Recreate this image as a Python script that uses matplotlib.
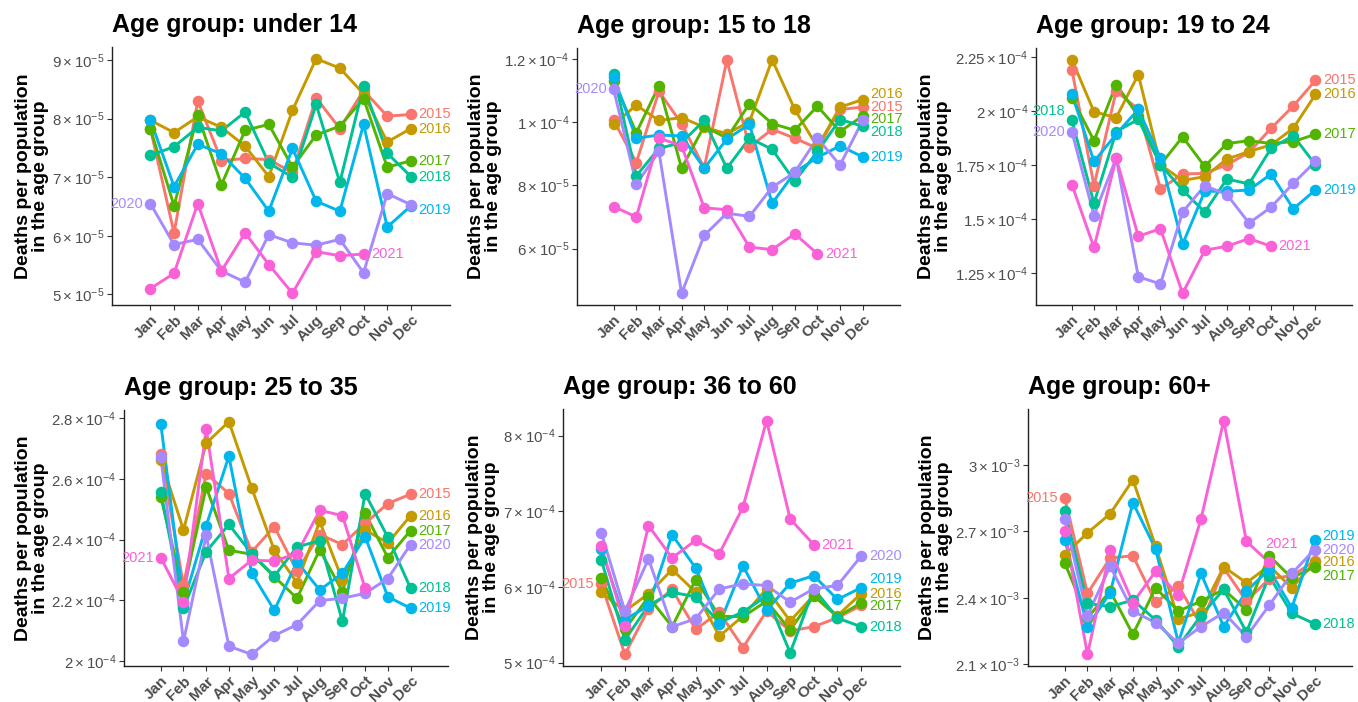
import numpy as np
import matplotlib
matplotlib.use("Agg")
import matplotlib.pyplot as plt
from matplotlib.ticker import FuncFormatter, FixedLocator

plt.rcParams['font.family'] = ['Liberation Sans', 'DejaVu Sans']
plt.rcParams['mathtext.fontset'] = 'custom'
plt.rcParams['mathtext.rm'] = 'Liberation Sans'
plt.rcParams['mathtext.it'] = 'Liberation Sans:italic'
plt.rcParams['mathtext.bf'] = 'Liberation Sans:bold'

months = ['Jan', 'Feb', 'Mar', 'Apr', 'May', 'Jun', 'Jul', 'Aug', 'Sep', 'Oct', 'Nov', 'Dec']
years = [2015, 2016, 2017, 2018, 2019, 2020, 2021]
colors = ['#F8766D', '#C49A00', '#53B400', '#00C094', '#00B6EB', '#A58AFF', '#FB61D7']

# ---- Age group: under 14 (x 1e-5)
u14_scale = 1e-5
u14_2015 = [7.83, 6.05, 8.30, 7.28, 7.32, 7.30, 7.08, 8.35, 7.83, 8.48, 8.04, 8.07]
u14_2016 = [7.97, 7.76, 8.03, 7.85, 7.53, 7.01, 8.14, 9.02, 8.86, 8.42, 7.60, 7.83]
u14_2017 = [7.83, 6.51, 8.06, 6.87, 7.80, 7.90, 7.17, 7.72, 7.87, 8.34, 7.17, 7.28]
u14_2018 = [7.37, 7.52, 7.85, 7.79, 8.11, 7.24, 7.00, 8.24, 6.91, 8.56, 7.41, 7.01]
u14_2019 = [7.98, 6.84, 7.56, 7.40, 6.98, 6.42, 7.49, 6.59, 6.42, 7.90, 6.15, 6.51]
u14_2020 = [6.55, 5.85, 5.94, 5.40, 5.21, 6.02, 5.88, 5.84, 5.94, 5.37, 6.72, 6.53]
u14_2021 = [5.10, 5.36, 6.55, 5.40, 6.05, 5.51, 5.02, 5.73, 5.66, 5.69]
u14_ticks = [5e-5, 6e-5, 7e-5, 8e-5, 9e-5]

# ---- Age group: 15 to 18 (x 1e-5)
a15_scale = 1e-5
a15_2015 = [10.05, 8.72, 10.97, 9.95, 8.55, 11.95, 9.21, 9.77, 9.49, 9.17, 10.40, 10.47]
a15_2016 = [9.93, 10.53, 10.05, 10.14, 9.84, 9.63, 10.01, 11.97, 10.40, 9.21, 10.47, 10.71]
a15_2017 = [11.31, 9.66, 11.15, 8.54, 9.87, 9.49, 10.58, 9.95, 9.74, 10.50, 9.70, 10.19]
a15_2018 = [11.52, 8.30, 9.17, 9.35, 10.05, 8.54, 9.49, 9.14, 8.13, 9.07, 10.08, 9.87]
a15_2019 = [11.41, 9.49, 9.59, 9.56, 8.54, 9.46, 9.93, 7.43, 8.41, 8.88, 9.25, 8.90]
a15_2020 = [11.03, 8.04, 9.07, 4.59, 6.42, 7.12, 7.02, 7.94, 8.41, 9.49, 8.64, 10.05]
a15_2021 = [7.33, 7.00, 9.49, 9.25, 7.29, 7.23, 6.05, 5.97, 6.47, 5.84]
a15_ticks = [6e-5, 8e-5, 1e-4, 1.2e-4]

# ---- Age group: 19 to 24 (x 1e-4)
a19_scale = 1e-4
a19_2015 = [2.193, 1.656, 2.093, 2.010, 1.641, 1.710, 1.713, 1.753, 1.810, 1.922, 2.025, 2.143]
a19_2016 = [2.239, 1.998, 1.971, 2.170, 1.753, 1.680, 1.698, 1.779, 1.814, 1.845, 1.922, 2.078]
a19_2017 = [2.063, 1.864, 2.124, 1.979, 1.753, 1.882, 1.745, 1.851, 1.864, 1.851, 1.860, 1.894]
a19_2018 = [1.959, 1.575, 1.906, 1.963, 1.753, 1.636, 1.534, 1.687, 1.664, 1.830, 1.887, 1.753]
a19_2019 = [2.081, 1.768, 1.894, 2.009, 1.784, 1.385, 1.630, 1.630, 1.636, 1.710, 1.549, 1.636]
a19_2020 = [1.906, 1.518, 1.784, 1.235, 1.201, 1.534, 1.656, 1.615, 1.483, 1.557, 1.667, 1.768]
a19_2021 = [1.661, 1.370, 1.784, 1.422, 1.457, 1.158, 1.357, 1.376, 1.411, 1.376]
a19_ticks = [1.25e-4, 1.5e-4, 1.75e-4, 2e-4, 2.25e-4]

# ---- Age group: 25 to 35 (x 1e-4)
a25_scale = 1e-4
a25_2015 = [2.682, 2.250, 2.617, 2.552, 2.359, 2.443, 2.297, 2.417, 2.384, 2.454, 2.519, 2.550]
a25_2016 = [2.664, 2.432, 2.718, 2.789, 2.571, 2.365, 2.258, 2.460, 2.267, 2.432, 2.389, 2.479]
a25_2017 = [2.541, 2.229, 2.574, 2.365, 2.352, 2.278, 2.207, 2.367, 2.229, 2.487, 2.341, 2.430]
a25_2018 = [2.558, 2.174, 2.361, 2.450, 2.354, 2.280, 2.376, 2.397, 2.131, 2.552, 2.408, 2.240]
a25_2019 = [2.782, 2.191, 2.446, 2.675, 2.291, 2.167, 2.327, 2.234, 2.289, 2.410, 2.212, 2.174]
a25_2020 = [2.672, 2.065, 2.414, 2.049, 2.022, 2.084, 2.120, 2.199, 2.207, 2.223, 2.272, 2.384]
a25_2021 = [2.341, 2.196, 2.765, 2.272, 2.332, 2.330, 2.354, 2.497, 2.479, 2.240]
a25_ticks = [2e-4, 2.2e-4, 2.4e-4, 2.6e-4, 2.8e-4]

# ---- Age group: 36 to 60 (x 1e-4)
a36_scale = 1e-4
a36_2015 = [6.041, 5.110, 5.710, 5.967, 5.440, 5.668, 5.200, 5.680, 5.420, 5.475, 5.593, 5.756]
a36_2016 = [5.930, 5.680, 5.910, 6.230, 5.930, 5.350, 5.615, 5.975, 5.550, 5.890, 5.620, 5.910]
a36_2017 = [6.120, 5.440, 5.870, 5.475, 6.098, 5.615, 5.606, 5.813, 5.430, 5.880, 5.606, 5.790]
a36_2018 = [6.360, 5.300, 5.756, 5.930, 5.870, 5.530, 5.670, 5.880, 5.130, 5.975, 5.590, 5.475]
a36_2019 = [6.500, 5.570, 5.750, 6.690, 6.250, 5.505, 6.280, 5.690, 6.050, 6.150, 5.835, 5.990]
a36_2020 = [6.720, 5.680, 6.370, 5.475, 5.580, 5.975, 6.040, 6.020, 5.800, 5.975, 6.020, 6.406]
a36_2021 = [6.546, 5.490, 6.810, 6.384, 6.617, 6.440, 7.056, 8.198, 6.898, 6.560]
a36_ticks = [5e-4, 6e-4, 7e-4, 8e-4]

# ---- Age group: 60+ (x 1e-3)
a60_scale = 1e-3
a60_2015 = [2.850, 2.420, 2.580, 2.590, 2.380, 2.455, 2.276, 2.535, 2.385, 2.486, 2.500, 2.565]
a60_2016 = [2.595, 2.693, 2.780, 2.933, 2.633, 2.305, 2.335, 2.540, 2.468, 2.545, 2.445, 2.560]
a60_2017 = [2.557, 2.310, 2.430, 2.235, 2.445, 2.340, 2.385, 2.438, 2.345, 2.590, 2.490, 2.540]
a60_2018 = [2.790, 2.375, 2.360, 2.390, 2.300, 2.180, 2.320, 2.438, 2.245, 2.498, 2.330, 2.283]
a60_2019 = [2.663, 2.270, 2.423, 2.830, 2.620, 2.198, 2.510, 2.270, 2.430, 2.528, 2.355, 2.660]
a60_2020 = [2.756, 2.320, 2.543, 2.340, 2.288, 2.195, 2.270, 2.333, 2.225, 2.366, 2.510, 2.618]
a60_2021 = [2.700, 2.145, 2.615, 2.378, 2.520, 2.415, 2.756, 3.200, 2.655, 2.560]
a60_ticks = [2.1e-3, 2.4e-3, 2.7e-3, 3e-3]

titles = ['Age group: under 14', 'Age group: 15 to 18', 'Age group: 19 to 24',
          'Age group: 25 to 35', 'Age group: 36 to 60', 'Age group: 60+']

panels = [
    (u14_scale, [u14_2015, u14_2016, u14_2017, u14_2018, u14_2019, u14_2020, u14_2021], u14_ticks),
    (a15_scale, [a15_2015, a15_2016, a15_2017, a15_2018, a15_2019, a15_2020, a15_2021], a15_ticks),
    (a19_scale, [a19_2015, a19_2016, a19_2017, a19_2018, a19_2019, a19_2020, a19_2021], a19_ticks),
    (a25_scale, [a25_2015, a25_2016, a25_2017, a25_2018, a25_2019, a25_2020, a25_2021], a25_ticks),
    (a36_scale, [a36_2015, a36_2016, a36_2017, a36_2018, a36_2019, a36_2020, a36_2021], a36_ticks),
    (a60_scale, [a60_2015, a60_2016, a60_2017, a60_2018, a60_2019, a60_2020, a60_2021], a60_ticks),
]

# label layout (which years are labelled at the start, and small repel nudges in scale units)
left_labelled = [[2020], [2020], [2018, 2020], [2021], [2015], [2015]]
label_nudge = [
    {2019: (0, -0.07)},
    {2016: (0, 0.18), 2017: (0, -0.10), 2018: (0, -0.18)},
    {2018: (0, 0.043)},
    {},
    {2019: (0, 0.12), 2017: (0, -0.035)},
    {2019: (0, 0.018), 2017: (0, -0.042), 2021: (0.1, 0.084)},
]

# axes rectangles in pixels: left, right, top, bottom
W, H = 1358, 702
rects_px = [(112, 450, 47, 305), (577, 900, 48, 305), (1036, 1352, 48, 305),
            (124, 448, 410, 666), (563, 900, 409, 666), (1028, 1352, 409, 666)]

fig = plt.figure(figsize=(W / 100, H / 100), dpi=100)


def sci_label(v, pos=None):
    if v <= 0:
        return ''
    e = int(np.floor(np.log10(v) + 1e-9))
    m = v / 10 ** e
    ms = ('%.2f' % m).rstrip('0').rstrip('.')
    return r'$%s\times10^{%d}$' % (ms, e)


x = np.arange(1, 13)
for i, (scale, series, ticks) in enumerate(panels):
    l, r, t, b = rects_px[i]
    ax = fig.add_axes([l / W, 1 - b / H, (r - l) / W, (b - t) / H])
    for yr, col, vals in zip(years, colors, series):
        v = np.array(vals) * scale
        ax.plot(x[:len(v)], v, color=col, lw=2.1, zorder=2, solid_capstyle='round')
    for yr, col, vals in zip(years, colors, series):
        v = np.array(vals) * scale
        ax.plot(x[:len(v)], v, 'o', color=col, ms=8.3, mec='none', zorder=3)
    for yr, col, vals in zip(years, colors, series):
        v = np.array(vals) * scale
        dx, dy = label_nudge[i].get(yr, (0, 0))
        if yr in left_labelled[i]:
            ax.text(1 - 0.3 + dx, v[0] + dy * scale, str(yr), color=col, fontsize=10.5,
                    ha='right', va='center', zorder=4)
        elif yr == 2021 and i == 5:
            ax.text(len(v) + 0.45 + dx, v[-1] + dy * scale, str(yr), color=col, fontsize=10.5,
                    ha='center', va='center', zorder=4)
        else:
            ax.text(len(v) + 0.33 + dx, v[-1] + dy * scale, str(yr), color=col, fontsize=10.5,
                    ha='left', va='center', zorder=4)
    ax.set_xlim(-0.62, 13.65)
    ax.margins(y=0.05)
    ax.set_xticks(x)
    ax.set_xticklabels(months, rotation=45, ha='right', va='top', rotation_mode='anchor',
                       fontsize=11, fontweight='bold', color='#4D4D4D')
    ax.yaxis.set_major_locator(FixedLocator(ticks))
    ax.yaxis.set_major_formatter(FuncFormatter(sci_label))
    ax.tick_params(axis='y', labelsize=10.8, colors='#333333', labelcolor='#4D4D4D', length=3.5, width=0.8, pad=2)
    ax.tick_params(axis='x', colors='#333333', labelcolor='#4D4D4D', length=3.5, width=0.8, pad=2)
    for s in ['top', 'right']:
        ax.spines[s].set_visible(False)
    for s in ['left', 'bottom']:
        ax.spines[s].set_color('#222222')
        ax.spines[s].set_linewidth(1.0)
    ax.set_ylabel('Deaths per population\nin the age group', fontsize=14, fontweight='bold',
                  color='black', linespacing=1.0, labelpad=2)
    ax.set_title(titles[i], loc='left', fontsize=18, fontweight='bold', pad=11)

fig.savefig('out.png', dpi=100)
